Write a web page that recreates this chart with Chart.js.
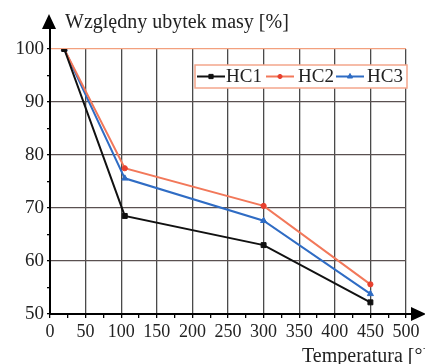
<!DOCTYPE html>
<html>
<head>
<meta charset="utf-8">
<script src="https://cdn.jsdelivr.net/npm/chart.js"></script>
<style>
  body { margin: 0; background: #fff; }
</style>
</head>
<body>
<canvas id="myChart" width="425" height="364"></canvas>
<script>
// data
const temps = [20, 105, 300, 450];
const hc1 = [100, 68.5, 63.0, 52.2];
const hc2 = [100, 77.5, 70.4, 55.6];
const hc3 = [100, 75.6, 67.6, 53.8];
const seriesNames = ['HC1', 'HC2', 'HC3'];
const yTitle = 'Względny ubytek masy [%]';
const xTitle = 'Temperatura [°]';

const serif = '"Liberation Serif", "Times New Roman", serif';

function pts(vals) {
  return temps.map((t, i) => ({ x: t, y: vals[i] }));
}

const data = {
  datasets: [
    { label: seriesNames[0], data: pts(hc1), borderColor: '#111', backgroundColor: '#111',
      pointStyle: 'rect', pointRadius: 3.5, pointBorderWidth: 1, borderWidth: 2 },
    { label: seriesNames[1], data: pts(hc2), borderColor: '#f2785a', backgroundColor: '#e8402e',
      pointBorderColor: '#e8402e', pointStyle: 'circle', pointRadius: 2.6, pointBorderWidth: 1, borderWidth: 2 },
    { label: seriesNames[2], data: pts(hc3), borderColor: '#2f6cc4', backgroundColor: '#2f6cc4',
      pointStyle: 'triangle', pointRadius: 3.5, pointBorderWidth: 1, borderWidth: 2 }
  ]
};

// axes with arrows, titles and the legend box
const decor = {
  id: 'decor',
  afterDraw(chart) {
    const ctx = chart.ctx;
    const a = chart.chartArea;
    ctx.save();
    ctx.strokeStyle = '#000';
    ctx.fillStyle = '#000';
    ctx.lineWidth = 2;
    ctx.beginPath();
    ctx.moveTo(a.left, a.bottom);
    ctx.lineTo(a.left, 26);
    ctx.moveTo(a.left, a.bottom);
    ctx.lineTo(414, a.bottom);
    ctx.stroke();
    // arrow heads
    ctx.beginPath();
    ctx.moveTo(a.left - 1, 14);
    ctx.lineTo(a.left - 8, 29);
    ctx.lineTo(a.left + 6, 29);
    ctx.closePath();
    ctx.fill();
    ctx.beginPath();
    ctx.moveTo(426, a.bottom);
    ctx.lineTo(411, a.bottom - 7);
    ctx.lineTo(411, a.bottom + 7);
    ctx.closePath();
    ctx.fill();

    ctx.font = '20px ' + serif;
    ctx.textBaseline = 'alphabetic';
    ctx.textAlign = 'left';
    ctx.fillStyle = '#222';
    ctx.fillText(yTitle, 65, 28);
    ctx.fillText(xTitle, 302, 362);

    // legend
    const lx = 195, ly = 65, lw = 212, lh = 23;
    ctx.fillStyle = '#fff';
    ctx.fillRect(lx, ly, lw, lh);
    ctx.strokeStyle = '#f4a68c';
    ctx.lineWidth = 1.5;
    ctx.strokeRect(lx, ly, lw, lh);
    const lineX = [197, 266, 336];
    const textX = [226, 298, 367];
    const cy = ly + lh / 2;
    chart.data.datasets.forEach((ds, i) => {
      ctx.strokeStyle = ds.borderColor;
      ctx.lineWidth = 2;
      ctx.beginPath();
      ctx.moveTo(lineX[i], cy);
      ctx.lineTo(lineX[i] + 28, cy);
      ctx.stroke();
      ctx.fillStyle = ds.backgroundColor;
      ctx.strokeStyle = ds.backgroundColor;
      ctx.lineWidth = 1;
      Chart.helpers.drawPoint(ctx, {
        pointStyle: ds.pointStyle, radius: ds.pointRadius - 0.5, borderWidth: 1, rotation: 0
      }, lineX[i] + 14, cy);
      ctx.fillStyle = '#222';
      ctx.font = '19px ' + serif;
      ctx.textBaseline = 'middle';
      ctx.fillText(ds.label, textX[i], cy + 1);
    });
    ctx.restore();
  }
};

const config = {
  type: 'line',
  data,
  options: {
    responsive: false,
    animation: false,
    layout: { padding: { top: 49, right: 19, left: 0, bottom: 0 } },
    plugins: { legend: { display: false }, tooltip: { enabled: false } },
    scales: {
      x: {
        type: 'linear', min: 0, max: 500,
        afterFit(s) { s.height = 50; },
        border: { display: false },
        grid: {
          color: c => (c.tick && c.tick.value % 50 === 0) ? '#4a4a4a' : 'rgba(0,0,0,0)',
          lineWidth: 1.3,
          tickColor: '#000', tickLength: 4
        },
        ticks: {
          stepSize: 25, autoSkip: false, maxRotation: 0, padding: 3,
          color: '#222', font: { family: serif, size: 18 },
          callback: v => v % 50 === 0 ? v : ''
        }
      },
      y: {
        min: 50, max: 100,
        afterFit(s) { s.width = 50; },
        border: { display: false },
        grid: {
          color: c => {
            if (!c.tick || c.tick.value % 10 !== 0) return 'rgba(0,0,0,0)';
            return c.tick.value === 100 ? '#f3a07e' : '#5a5050';
          },
          lineWidth: 1.3,
          tickColor: '#000', tickLength: 3
        },
        ticks: {
          stepSize: 5, autoSkip: false, padding: 3,
          color: '#222', font: { family: serif, size: 19 },
          callback: v => v % 10 === 0 ? v : ''
        }
      }
    }
  },
  plugins: [decor]
};

const myChart = new Chart(document.getElementById('myChart'), config);
</script>
</body>
</html>
